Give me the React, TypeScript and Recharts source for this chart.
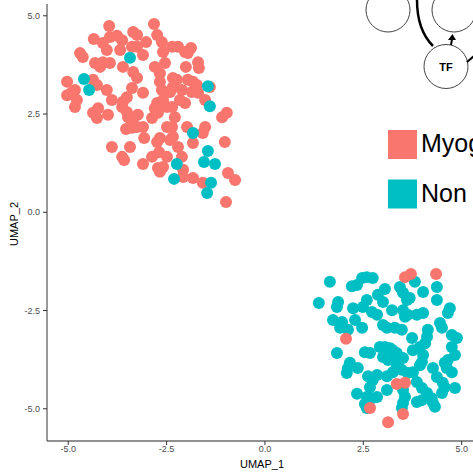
import React from "react";
import { ScatterChart, Scatter, XAxis, YAxis } from "recharts";

const RED = "#F8766D";
const TEAL = "#00BFC4";

type Pt = { x: number; y: number };

// upper-left cluster, myogenic cells
const myogenicTop: Pt[] = [
  { x: -3.96, y: 4.74 }, { x: -2.82, y: 4.79 }, { x: -4.35, y: 4.41 }, { x: -3.35, y: 4.59 },
  { x: -3.25, y: 4.51 }, { x: -3.94, y: 4.46 }, { x: -3.76, y: 4.49 }, { x: -3.63, y: 4.38 },
  { x: -4.12, y: 4.31 }, { x: -4.02, y: 4.13 }, { x: -3.68, y: 4.13 }, { x: -3.38, y: 4.21 },
  { x: -3.25, y: 4.21 }, { x: -3.02, y: 4.33 }, { x: -2.74, y: 4.51 }, { x: -2.62, y: 4.33 },
  { x: -2.59, y: 4.08 }, { x: -2.36, y: 4.21 }, { x: -2.21, y: 4.21 }, { x: -2.03, y: 4.08 },
  { x: -1.88, y: 4.18 }, { x: -1.96, y: 4.05 }, { x: -4.7, y: 4.05 }, { x: -4.63, y: 3.95 },
  { x: -4.32, y: 3.8 }, { x: -4.19, y: 3.7 }, { x: -4.12, y: 3.82 }, { x: -3.94, y: 3.8 },
  { x: -3.61, y: 3.7 }, { x: -3.1, y: 4.0 }, { x: -2.8, y: 3.7 }, { x: -2.54, y: 3.8 },
  { x: -2.01, y: 3.7 }, { x: -1.7, y: 3.82 }, { x: -1.68, y: 3.67 }, { x: -3.35, y: 3.57 },
  { x: -3.25, y: 3.42 }, { x: -2.67, y: 3.54 }, { x: -2.67, y: 3.32 }, { x: -2.34, y: 3.42 },
  { x: -2.24, y: 3.37 }, { x: -1.96, y: 3.37 }, { x: -1.83, y: 3.32 }, { x: -5.03, y: 3.32 },
  { x: -4.37, y: 3.37 }, { x: -4.27, y: 3.24 }, { x: -4.83, y: 3.11 }, { x: -4.9, y: 3.06 },
  { x: -5.03, y: 2.98 }, { x: -4.78, y: 2.86 }, { x: -4.83, y: 2.68 }, { x: -4.02, y: 3.11 },
  { x: -3.89, y: 2.86 }, { x: -3.38, y: 3.16 }, { x: -3.1, y: 3.04 }, { x: -3.51, y: 2.93 },
  { x: -3.61, y: 2.81 }, { x: -2.62, y: 3.11 }, { x: -2.34, y: 3.19 }, { x: -2.41, y: 3.06 },
  { x: -2.11, y: 3.11 }, { x: -1.86, y: 3.06 }, { x: -1.7, y: 3.04 }, { x: -1.73, y: 3.24 },
  { x: -1.4, y: 3.19 }, { x: -1.52, y: 2.86 }, { x: -4.37, y: 2.53 }, { x: -4.24, y: 2.65 },
  { x: -4.27, y: 2.4 }, { x: -3.99, y: 2.48 }, { x: -3.63, y: 2.68 }, { x: -3.51, y: 2.55 },
  { x: -3.48, y: 2.42 }, { x: -3.23, y: 2.48 }, { x: -3.35, y: 2.27 }, { x: -3.38, y: 2.15 },
  { x: -3.25, y: 2.17 }, { x: -3.53, y: 2.12 }, { x: -3.1, y: 2.17 }, { x: -2.87, y: 2.4 },
  { x: -2.74, y: 2.78 }, { x: -2.72, y: 2.53 }, { x: -2.8, y: 2.65 }, { x: -2.59, y: 2.86 },
  { x: -2.49, y: 2.68 }, { x: -2.36, y: 2.68 }, { x: -2.29, y: 2.42 }, { x: -2.16, y: 2.86 },
  { x: -2.03, y: 2.78 }, { x: -2.49, y: 2.17 }, { x: -2.36, y: 2.17 }, { x: -2.67, y: 1.89 },
  { x: -2.74, y: 1.79 }, { x: -2.34, y: 1.92 }, { x: -2.41, y: 1.84 }, { x: -1.98, y: 2.17 },
  { x: -1.83, y: 1.76 }, { x: -1.58, y: 2.02 }, { x: -1.52, y: 2.17 }, { x: -1.09, y: 2.42 },
  { x: -0.97, y: 2.53 }, { x: -3.07, y: 1.89 }, { x: -3.89, y: 1.66 }, { x: -3.43, y: 1.66 },
  { x: -3.63, y: 1.41 }, { x: -3.58, y: 1.33 }, { x: -3.1, y: 1.23 }, { x: -2.87, y: 1.41 },
  { x: -2.69, y: 1.53 }, { x: -2.49, y: 1.41 }, { x: -2.21, y: 1.66 }, { x: -2.11, y: 1.41 },
  { x: -2.72, y: 1.13 }, { x: -2.59, y: 1.15 }, { x: -2.67, y: 1.03 }, { x: -2.08, y: 1.08 },
  { x: -2.08, y: 0.9 }, { x: -1.83, y: 0.87 }, { x: -1.58, y: 0.75 }, { x: -1.02, y: 1.79 },
  { x: -0.94, y: 1.0 }, { x: -0.76, y: 0.82 }, { x: -0.99, y: 0.26 },
];

// upper-left cluster, non-myogenic cells
const nonMyogenicTop: Pt[] = [
  { x: -3.43, y: 3.93 }, { x: -4.6, y: 3.39 }, { x: -4.47, y: 3.11 }, { x: -1.45, y: 3.21 },
  { x: -1.4, y: 2.7 }, { x: -1.83, y: 2.02 }, { x: -1.45, y: 1.56 }, { x: -1.55, y: 1.28 },
  { x: -1.27, y: 1.23 }, { x: -2.24, y: 1.23 }, { x: -2.31, y: 0.85 }, { x: -1.37, y: 0.75 },
  { x: -1.47, y: 0.49 },
];

// lower-right cluster, non-myogenic cells
const nonMyogenicBottom: Pt[] = [
  { x: 1.65, y: -1.77 }, { x: 1.37, y: -2.31 }, { x: 1.86, y: -2.28 }, { x: 1.83, y: -2.41 },
  { x: 1.73, y: -2.74 }, { x: 1.96, y: -2.79 }, { x: 1.91, y: -2.94 }, { x: 2.11, y: -2.99 },
  { x: 2.29, y: -2.74 }, { x: 2.24, y: -2.44 }, { x: 2.21, y: -1.88 }, { x: 2.34, y: -1.85 },
  { x: 2.47, y: -1.67 }, { x: 2.59, y: -1.65 }, { x: 2.74, y: -1.67 }, { x: 2.49, y: -2.41 },
  { x: 2.59, y: -2.23 }, { x: 2.47, y: -2.94 }, { x: 2.72, y: -2.54 }, { x: 2.85, y: -2.61 },
  { x: 2.87, y: -2.1 }, { x: 3.0, y: -2.28 }, { x: 3.05, y: -1.95 }, { x: 3.23, y: -2.49 },
  { x: 3.0, y: -2.87 }, { x: 3.1, y: -2.94 }, { x: 3.3, y: -2.94 }, { x: 3.48, y: -2.99 },
  { x: 3.43, y: -1.9 }, { x: 3.51, y: -2.05 }, { x: 3.61, y: -2.23 }, { x: 3.68, y: -2.18 },
  { x: 3.81, y: -1.77 }, { x: 4.02, y: -2.03 }, { x: 4.37, y: -1.9 }, { x: 4.37, y: -2.23 },
  { x: 3.51, y: -2.49 }, { x: 3.56, y: -2.66 }, { x: 3.63, y: -2.61 }, { x: 3.86, y: -2.61 },
  { x: 4.02, y: -2.56 }, { x: 3.74, y: -3.2 }, { x: 4.14, y: -2.99 }, { x: 4.12, y: -3.17 },
  { x: 4.07, y: -3.33 }, { x: 4.45, y: -2.82 }, { x: 4.5, y: -2.94 }, { x: 4.65, y: -2.56 },
  { x: 4.7, y: -2.44 }, { x: 4.75, y: -3.12 }, { x: 4.88, y: -3.2 }, { x: 4.75, y: -3.43 },
  { x: 4.83, y: -3.63 }, { x: 1.83, y: -3.58 }, { x: 2.54, y: -3.56 }, { x: 2.67, y: -3.58 },
  { x: 2.92, y: -3.43 }, { x: 3.05, y: -3.43 }, { x: 3.18, y: -3.46 }, { x: 3.25, y: -3.51 },
  { x: 3.0, y: -3.68 }, { x: 3.13, y: -3.76 }, { x: 3.35, y: -3.58 }, { x: 3.38, y: -3.76 },
  { x: 3.51, y: -3.71 }, { x: 3.76, y: -3.51 }, { x: 3.94, y: -3.43 }, { x: 4.02, y: -3.63 },
  { x: 3.99, y: -3.81 }, { x: 3.35, y: -3.94 }, { x: 3.48, y: -4.01 }, { x: 3.63, y: -4.09 },
  { x: 3.76, y: -4.07 }, { x: 3.94, y: -3.89 }, { x: 2.16, y: -3.83 }, { x: 2.11, y: -3.96 },
  { x: 2.08, y: -4.09 }, { x: 2.36, y: -3.96 }, { x: 2.85, y: -4.14 }, { x: 2.74, y: -4.27 },
  { x: 2.67, y: -4.45 }, { x: 3.1, y: -4.17 }, { x: 3.25, y: -4.07 }, { x: 2.62, y: -4.17 },
  { x: 2.59, y: -4.7 }, { x: 2.72, y: -4.73 }, { x: 2.85, y: -4.7 }, { x: 2.34, y: -4.62 },
  { x: 3.1, y: -4.52 }, { x: 3.51, y: -4.52 }, { x: 3.56, y: -4.7 }, { x: 3.51, y: -4.85 },
  { x: 3.48, y: -4.98 }, { x: 3.86, y: -4.32 }, { x: 3.99, y: -4.47 }, { x: 4.12, y: -4.6 },
  { x: 4.24, y: -4.73 }, { x: 4.27, y: -4.85 }, { x: 4.32, y: -4.95 }, { x: 3.86, y: -4.83 },
  { x: 3.99, y: -4.78 }, { x: 4.12, y: -4.7 }, { x: 4.27, y: -3.96 }, { x: 4.37, y: -4.19 },
  { x: 4.57, y: -3.83 }, { x: 4.65, y: -3.76 }, { x: 4.62, y: -3.96 }, { x: 4.52, y: -4.34 },
  { x: 4.5, y: -4.6 }, { x: 4.57, y: -4.45 }, { x: 4.83, y: -4.47 }, { x: 4.75, y: -4.07 },
  { x: 2.59, y: -4.98 }, { x: 2.54, y: -4.88 },
];

// lower-right cluster, myogenic cells
const myogenicBottom: Pt[] = [
  { x: 3.56, y: -1.65 }, { x: 3.71, y: -1.57 }, { x: 4.35, y: -1.57 }, { x: 2.06, y: -3.22 },
  { x: 3.35, y: -4.37 }, { x: 3.56, y: -4.34 }, { x: 2.67, y: -4.98 }, { x: 3.51, y: -5.13 },
  { x: 3.13, y: -5.34 },
];

const xTicks = [-5, -2.5, 0, 2.5, 5];
const yTicks = [-5, -2.5, 0, 2.5, 5];
const legendLabels = ["Myogenic", "Non myogenic"];
const legendColors = [RED, TEAL];

const dot = (fill: string) => (props: any) =>
  <circle cx={props.cx} cy={props.cy} r={6} fill={fill} />;

const fmt = (v: number) => v.toFixed(1);

export default function App() {
  return (
    <div
      style={{
        position: "absolute",
        left: 0,
        top: 0,
        width: 473,
        height: 472,
        overflow: "hidden",
        background: "#fff",
        fontFamily: "'Liberation Sans', Arial, sans-serif",
      }}
    >
      <ScatterChart width={477} height={472} margin={{ top: 4, right: 0, bottom: 0, left: 0 }}>
        <XAxis
          type="number"
          dataKey="x"
          domain={[-5.54, 5.39]}
          ticks={xTicks}
          tickFormatter={fmt}
          allowDataOverflow
          height={31}
          tickSize={4}
          tickMargin={1}
          axisLine={{ stroke: "#222", strokeWidth: 1.2 }}
          tickLine={{ stroke: "#333" }}
          tick={{ fontSize: 9, fill: "#4D4D4D" }}
          label={() => (
            <text x={262} y={468} textAnchor="middle" fontSize={11} fill="#000">
              UMAP_1
            </text>
          )}
        />
        <YAxis
          type="number"
          dataKey="y"
          domain={[-5.82, 5.3]}
          ticks={yTicks}
          tickFormatter={fmt}
          allowDataOverflow
          width={47}
          tickSize={4}
          tickMargin={3}
          axisLine={{ stroke: "#555", strokeWidth: 1.2 }}
          tickLine={{ stroke: "#333" }}
          tick={{ fontSize: 9, fill: "#4D4D4D" }}
          label={() => (
            <text x={18} y={224} transform="rotate(-90 18 224)" textAnchor="middle" fontSize={11} fill="#000">
              UMAP_2
            </text>
          )}
        />
        <Scatter name="Myogenic" data={myogenicTop} shape={dot(RED)} isAnimationActive={false} />
        <Scatter name="Non myogenic" data={nonMyogenicTop} shape={dot(TEAL)} isAnimationActive={false} />
        <Scatter name="Non myogenic" data={nonMyogenicBottom} shape={dot(TEAL)} isAnimationActive={false} />
        <Scatter name="Myogenic" data={myogenicBottom} shape={dot(RED)} isAnimationActive={false} />
      </ScatterChart>

      <svg
        width={473}
        height={472}
        style={{ position: "absolute", left: 0, top: 0, pointerEvents: "none" }}
      >
        {/* network sketch from the neighbouring panel */}
        <circle cx={388} cy={10} r={22} fill="#fff" stroke="#444" strokeWidth={1} />
        <circle cx={454} cy={10} r={22} fill="#fff" stroke="#444" strokeWidth={1} />
        <path d="M 417 0 Q 417 30 433 46" fill="none" stroke="#000" strokeWidth={2.5} />
        <circle cx={446} cy={66.5} r={22} fill="#fff" stroke="#444" strokeWidth={1} />
        <text x={446} y={71} textAnchor="middle" fontSize={11} fontWeight="bold" fill="#000">
          TF
        </text>
        <line x1={451} y1={45} x2={452} y2={39} stroke="#000" strokeWidth={2} />
        <path d="M 448 40 L 452.5 34 L 456 40 Z" fill="#000" />
        <line x1={467} y1={62} x2={474} y2={56} stroke="#000" strokeWidth={2} />

        {legendLabels.map((lab, i) => (
          <g key={lab}>
            <rect x={388} y={130 + i * 49.5} width={29} height={29} fill={legendColors[i]} />
            <text x={421} y={152 + i * 49.5} fontSize={25} fill="#000">
              {lab}
            </text>
          </g>
        ))}
      </svg>
    </div>
  );
}
